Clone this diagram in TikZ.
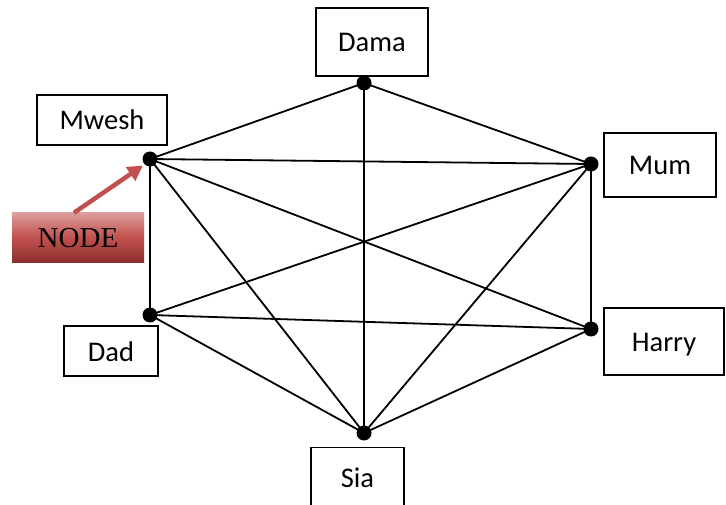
\documentclass[tikz,border=0pt]{standalone}
\usepackage{fontspec}
\setmainfont{Carlito}
\newfontfamily\labelserif{Liberation Serif}
\usetikzlibrary{arrows.meta}
\definecolor{accent}{HTML}{C0504D}
\definecolor{accenttop}{HTML}{DC9C9A}
\definecolor{accentbot}{HTML}{8A2F2D}
\begin{document}
\begin{tikzpicture}[x=1pt,y=-1pt,
  namebox/.style={draw=black, line width=1.4pt, inner sep=0pt,
    font=\fontsize{28.5}{31}\selectfont, text height=25pt, text depth=5pt},
  vertex/.style={circle, fill=black, inner sep=0pt, minimum size=15pt},
  edge/.style={line width=1.8pt, black},
  tagbox/.style={inner sep=0pt, top color=accenttop, bottom color=accentbot,
    middle color=accent, font=\labelserif\fontsize{29}{32}\selectfont},
  pointer/.style={line width=4.5pt, accent,
    -{Triangle[length=15pt,width=16pt]}}]
\useasboundingbox (0,0) rectangle (726,505);
\clip (0,0) rectangle (726,505);

% name boxes
\node[namebox, minimum width=112, minimum height=68] (bdama)  at (372,42)    {Dama};
\node[namebox, minimum width=130, minimum height=50] (bmwesh) at (102,120)   {Mwesh};
\node[namebox, minimum width=112, minimum height=64] (bmum)   at (660,165)   {Mum};
\node[namebox, minimum width=120, minimum height=67] (bharry) at (664,341.5) {Harry};
\node[namebox, minimum width=94,  minimum height=50] (bdad)   at (111,351)   {Dad};
\node[namebox, minimum width=93,  minimum height=60, anchor=north] (bsia) at (357.5,447) {Sia};

% vertices
\coordinate (dama)  at (364,83);
\coordinate (mwesh) at (150,159);
\coordinate (mum)   at (591,164);
\coordinate (harry) at (591,329);
\coordinate (sia)   at (364,433);
\coordinate (dad)   at (150,315);

% edges
\draw[edge] (dama) -- (mwesh);
\draw[edge] (dama) -- (mum);
\draw[edge] (dama) -- (sia);
\draw[edge] (mwesh) -- (mum);
\draw[edge] (mwesh) -- (harry);
\draw[edge] (mwesh) -- (sia);
\draw[edge] (mwesh) -- (dad);
\draw[edge] (mum) -- (dad);
\draw[edge] (mum) -- (sia);
\draw[edge] (mum) -- (harry);
\draw[edge] (harry) -- (dad);
\draw[edge] (harry) -- (sia);
\draw[edge] (dad) -- (sia);

\foreach \v in {dama,mwesh,mum,harry,sia,dad}
  \node[vertex] (dot\v) at (\v) {};

% annotation
\node[tagbox, minimum width=132, minimum height=50] (tag) at (78,238) {NODE};
\draw[pointer, shorten >=2pt] ([xshift=-4pt]tag.north) -- (dotmwesh.south west);
\end{tikzpicture}
\end{document}
